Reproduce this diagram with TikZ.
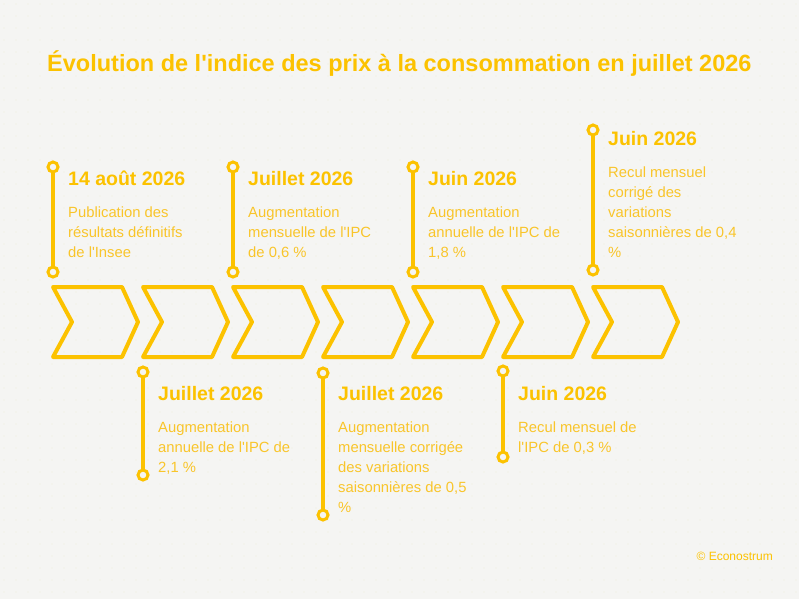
\documentclass[tikz,border=0pt]{standalone}
\usepackage{fontspec}
\setmainfont{Liberation Sans}
\definecolor{bg}{HTML}{F5F5F3}
\definecolor{dotc}{HTML}{EFEFDC}
\definecolor{ylw}{HTML}{FCC200}
\definecolor{ytxt}{HTML}{F9C52A}
\newcommand{\ap}{\textquotesingle}
\begin{document}
\begin{tikzpicture}[x=1pt,y=-1pt,
  chev/.style={draw=ylw,line width=4pt,line join=round},
  stem/.style={draw=ylw,line width=3.5pt,line cap=round},
  knob/.style={circle,draw=ylw,line width=3pt,fill=bg,minimum size=10pt,inner sep=0pt},
  head/.style={anchor=base west,inner sep=0pt,text=ylw,font=\fontsize{19.5}{22}\selectfont\bfseries},
  body/.style={anchor=base west,inner sep=0pt,text=ytxt,align=left,font=\fontsize{14.8}{20}\selectfont},
]
\fill[bg] (0,0) rectangle (799,599);
\useasboundingbox (0,0) rectangle (799,599);
\foreach \i in {0,...,66}{\foreach \j in {0,...,49}{\fill[dotc] (\i*12+4,\j*12+4) circle (0.7);}}
\node[anchor=base west,inner sep=0pt,text=ylw,font=\fontsize{23.5}{28}\selectfont\bfseries] (title) at (47,72) {Évolution de l\ap indice des prix à la consommation en juillet 2026};
% chevrons
\foreach \k/\x in {1/53,2/143,3/233,4/323,5/413,6/503,7/593}{
  \draw[chev] (\x,287) coordinate (c\k) -- ++(69,0) -- ++(16,35) -- ++(-16,35) -- ++(-69,0) -- ++(19,-35) -- cycle;
}
% top events
\foreach \n/\x/\ya/\yb in {a/53/167/272,c/233/167/272,e/413/167/272,g/593/130/270}{
  \node[knob] (\n1) at (\x,\ya) {};
  \node[knob] (\n2) at (\x,\yb) {};
  \draw[stem] (\n1) -- (\n2);
}
% bottom events
\foreach \n/\x/\ya/\yb in {b/143/372/475,d/323/373/515,f/503/371/457}{
  \node[knob] (\n1) at (\x,\ya) {};
  \node[knob] (\n2) at (\x,\yb) {};
  \draw[stem] (\n1) -- (\n2);
}
% body nodes are anchored at the baseline of their last line
\node[head] (ha) at (68,185) {14 août 2026};
\node[body] (ba) at (68,257) {Publication des\\résultats définitifs\\de l\ap Insee};
\node[head] (hc) at (248,185) {Juillet 2026};
\node[body] (bc) at (248,257) {Augmentation\\mensuelle de l\ap IPC\\de 0,6 \%};
\node[head] (he) at (428,185) {Juin 2026};
\node[body] (be) at (428,257) {Augmentation\\annuelle de l\ap IPC de\\1,8 \%};
\node[head] (hg) at (608,145) {Juin 2026};
\node[body] (bg) at (608,257) {Recul mensuel\\corrigé des\\variations\\saisonnières de 0,4\\\%};
\node[head] (hb) at (158,400) {Juillet 2026};
\node[body] (bb) at (158,472) {Augmentation\\annuelle de l\ap IPC de\\2,1 \%};
\node[head] (hd) at (338,400) {Juillet 2026};
\node[body] (bd) at (338,512) {Augmentation\\mensuelle corrigée\\des variations\\saisonnières de 0,5\\\%};
\node[head] (hf) at (518,400) {Juin 2026};
\node[body] (bf) at (518,452) {Recul mensuel de\\l\ap IPC de 0,3 \%};
\node[anchor=base east,inner sep=0pt,text=ylw,font=\fontsize{12}{14}\selectfont] (copy) at (773,560) {© Econostrum};
\end{tikzpicture}
\end{document}
